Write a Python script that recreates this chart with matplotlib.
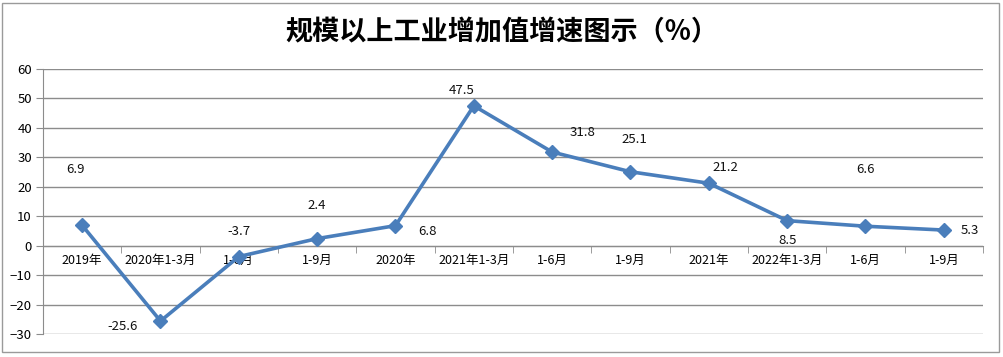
import matplotlib
matplotlib.use('Agg')
import matplotlib.pyplot as plt
from matplotlib.patches import Rectangle
from matplotlib.ticker import FixedLocator, MultipleLocator

plt.rcParams['font.family'] = ['Noto Sans CJK SC', 'DejaVu Sans']

categories = ['2019年', '2020年1-3月', '1-6月', '1-9月', '2020年', '2021年1-3月',
              '1-6月', '1-9月', '2021年', '2022年1-3月', '1-6月', '1-9月']
growth = [6.9, -25.6, -3.7, 2.4, 6.8, 47.5, 31.8, 25.1, 21.2, 8.5, 6.6, 5.3]
# label offsets (points) relative to each marker
label_offsets = [(-5, 40), (-27, -4), (0, 18), (0, 24), (23, -4), (-9, 11),
                 (22, 14), (3, 23), (12, 11), (0, -14), (0, 41), (19, 0)]

fig = plt.figure(figsize=(10.04, 3.57), dpi=100)
fig.patch.set_facecolor('white')
fig.patches.append(Rectangle((2 / 1004, 5 / 357), 997 / 1004, 349 / 357,
                             transform=fig.transFigure, fill=False,
                             edgecolor='#9a9a9a', lw=1))

ax = fig.add_axes([43 / 1004, 1 - 334 / 357, 940 / 1004, 265 / 357])
x = list(range(len(categories)))
ax.plot(x, growth, color='#4a7ebb', lw=2.6, marker='D', ms=7, zorder=3)

for xi, v, off in zip(x, growth, label_offsets):
    ax.annotate(f'{v}', (xi, v), xytext=off, textcoords='offset points',
                ha='center', va='center', fontsize=9.5, color='#111111')

ax.set_xlim(-0.5, len(categories) - 0.5)
ax.set_ylim(-30, 60)
ax.yaxis.set_major_locator(MultipleLocator(10))
ax.grid(axis='y', color='#8c8c8c', lw=1)
ax.set_axisbelow(True)

for s in ['top', 'right']:
    ax.spines[s].set_visible(False)
ax.spines['left'].set_color('#8c8c8c')
ax.spines['bottom'].set_position(('data', 0))
ax.spines['bottom'].set_color('#8c8c8c')

ax.set_xticks(x)
ax.set_xticklabels(categories, fontsize=9)
ax.tick_params(axis='x', which='major', length=0, pad=6)
ax.xaxis.set_minor_locator(FixedLocator([i + 0.5 for i in x]))
ax.tick_params(axis='x', which='minor', length=5, color='#8c8c8c', direction='out')
ax.tick_params(axis='y', length=5, color='#8c8c8c', labelsize=9.5, pad=3)

fig.text(0.5, 1 - 32 / 357, '规模以上工业增加值增速图示（%）', ha='center', va='center',
         fontsize=19.5, fontweight='bold')

fig.savefig('out.png', dpi=100)
